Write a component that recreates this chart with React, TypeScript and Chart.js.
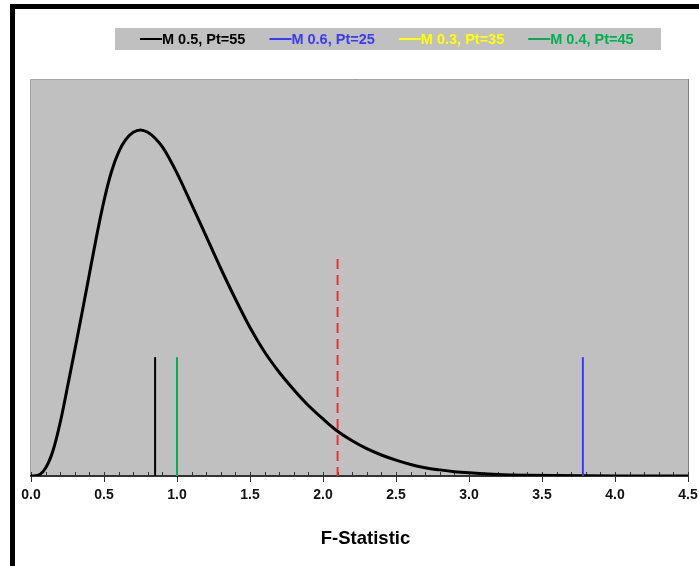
import React, { useEffect, useRef } from "react";
import { Chart, registerables } from "chart.js";

Chart.register(...registerables);

// F-statistic density curve
const curveX = [0, 0.05, 0.1, 0.15, 0.2, 0.25, 0.3, 0.35, 0.4, 0.45, 0.5, 0.55, 0.6, 0.65, 0.7, 0.75, 0.8, 0.85, 0.9, 0.95, 1.0, 1.1, 1.2, 1.3, 1.4, 1.5, 1.6, 1.7, 1.8, 1.9, 2.0, 2.1, 2.2, 2.3, 2.4, 2.5, 2.6, 2.7, 2.8, 2.9, 3.0, 3.2, 3.4, 3.6, 3.8, 4.0, 4.5];
const curveY = [0, 0.002, 0.02, 0.063, 0.135, 0.225, 0.318, 0.413, 0.51, 0.607, 0.695, 0.767, 0.818, 0.85, 0.868, 0.874, 0.868, 0.853, 0.831, 0.8, 0.765, 0.686, 0.605, 0.524, 0.447, 0.375, 0.313, 0.262, 0.218, 0.178, 0.144, 0.113, 0.089, 0.069, 0.053, 0.04, 0.029, 0.021, 0.0155, 0.011, 0.008, 0.004, 0.002, 0.001, 0.0005, 0.0002, 0];

// Marker lines
const markerLabels = ["M 0.5, Pt=55", "M 0.6, Pt=25", "M 0.3, Pt=35", "M 0.4, Pt=45"];
const markerColors = ["#000000", "#3a3aff", "#ffff00", "#00b050"];
const markerX: (number | null)[] = [0.85, 3.78, null, 1.0];
const markerHeight = 0.3;

// Critical value line
const criticalX = 2.1;
const criticalHeight = 0.548;

// Axis
const xMin = 0;
const xMax = 4.5;
const xMajorStep = 0.5;
const xMinorStep = 0.1;
const axisTitle = "F-Statistic";

const FONT = "'Liberation Sans', Arial, sans-serif";

export default function App() {
  const ref = useRef<HTMLCanvasElement>(null);

  useEffect(() => {
    if (!ref.current) return;
    Chart.defaults.font.family = FONT;

    const datasets: any[] = [
      {
        label: "F",
        data: curveX.map((x, i) => ({ x, y: curveY[i] })),
        borderColor: "#000000",
        borderWidth: 3,
        pointRadius: 0,
        cubicInterpolationMode: "monotone",
        borderJoinStyle: "round",
        order: 10,
      },
    ];
    markerLabels.forEach((lab, i) => {
      const mx = markerX[i];
      datasets.push({
        label: lab,
        data: mx == null ? [] : [{ x: mx, y: 0 }, { x: mx, y: markerHeight }],
        borderColor: markerColors[i],
        borderWidth: 2,
        pointRadius: 0,
        order: 5 - i,
      });
    });
    datasets.push({
      label: "critical",
      data: [{ x: criticalX, y: criticalHeight }, { x: criticalX, y: 0 }],
      borderColor: "#ff2a2a",
      borderWidth: 2,
      borderDash: [10, 6],
      pointRadius: 0,
      order: 0,
    });

    const bgPlugin = {
      id: "bgPlugin",
      beforeDraw(chart: any) {
        const { ctx, chartArea: a } = chart;
        ctx.save();
        ctx.fillStyle = "#ffffff";
        ctx.fillRect(0, 0, chart.width, chart.height);
        ctx.fillStyle = "#c0c0c0";
        ctx.fillRect(a.left, a.top, a.right - a.left, a.bottom - a.top);
        ctx.lineWidth = 1;
        ctx.strokeStyle = "#a4a4a4";
        ctx.beginPath();
        ctx.moveTo(a.left - 0.5, a.bottom);
        ctx.lineTo(a.left - 0.5, a.top - 0.5);
        ctx.lineTo(a.right, a.top - 0.5);
        ctx.stroke();
        ctx.strokeStyle = "#808080";
        ctx.beginPath();
        ctx.moveTo(a.right + 0.5, a.top - 1);
        ctx.lineTo(a.right + 0.5, a.bottom);
        ctx.stroke();
        ctx.restore();
      },
      beforeDatasetsDraw(chart: any) {
        const { ctx, chartArea: a, scales } = chart;
        const xs = scales.x;
        ctx.save();
        ctx.strokeStyle = "#333333";
        ctx.lineWidth = 1;
        const n = Math.round((xMax - xMin) / xMinorStep);
        for (let i = 0; i <= n; i++) {
          const v = xMin + i * xMinorStep;
          const px = Math.round(xs.getPixelForValue(v)) + 0.5;
          const major = i % Math.round(xMajorStep / xMinorStep) === 0;
          ctx.beginPath();
          ctx.moveTo(px, a.bottom - 4);
          ctx.lineTo(px, major ? a.bottom + 6 : a.bottom);
          ctx.stroke();
        }
        ctx.restore();
      },
      afterDraw(chart: any) {
        const { ctx, chartArea: a } = chart;
        ctx.save();
        // legend
        ctx.fillStyle = "#c0c0c0";
        ctx.fillRect(115, 28, 546, 22);
        ctx.font = `bold 14.5px ${FONT}`;
        ctx.textBaseline = "middle";
        ctx.textAlign = "left";
        let x = 140;
        const y = 39;
        markerLabels.forEach((lab, i) => {
          ctx.strokeStyle = markerColors[i];
          ctx.lineWidth = 2;
          ctx.beginPath();
          ctx.moveTo(x, y);
          ctx.lineTo(x + 22, y);
          ctx.stroke();
          ctx.fillStyle = markerColors[i];
          ctx.fillText(lab, x + 22, y + 1);
          x += 22 + ctx.measureText(lab).width + 24;
        });
        // axis title
        ctx.font = `bold 18.5px ${FONT}`;
        ctx.fillStyle = "#000000";
        ctx.textAlign = "center";
        ctx.fillText(axisTitle, (a.left + a.right) / 2 + 6, 539);
        ctx.restore();
      },
    };

    const chart = new Chart(ref.current, {
      type: "line",
      data: { datasets },
      options: {
        responsive: false,
        animation: false,
        devicePixelRatio: 1,
        layout: { padding: { left: 31, right: 11, top: 80, bottom: 0 } },
        plugins: { legend: { display: false }, tooltip: { enabled: false }, title: { display: false } },
        scales: {
          x: {
            type: "linear",
            min: xMin,
            max: xMax,
            ticks: {
              stepSize: xMajorStep,
              autoSkip: false,
              maxRotation: 0,
              padding: 5,
              color: "#111111",
              font: { size: 14, weight: "bold" },
              callback: (v: any) => Number(v).toFixed(1),
            },
            grid: {
              display: true,
              drawOnChartArea: false,
              drawTicks: true,
              tickLength: 6,
              color: "rgba(0,0,0,0)",
            },
            border: { display: true, color: "#333333", width: 2 },
            title: { display: false },
            afterFit: (s: any) => {
              s.height = 90;
              s.paddingLeft = 0;
              s.paddingRight = 0;
            },
          },
          y: { display: false, min: 0, max: 1 },
        },
      },
      plugins: [bgPlugin],
    } as any);
    return () => chart.destroy();
  }, []);

  return (
    <div style={{ position: "absolute", left: 0, top: 0, width: 699, height: 566, overflow: "hidden", background: "#fff" }}>
      <canvas ref={ref} width={699} height={566} style={{ position: "absolute", left: 0, top: 0, width: 699, height: 566 }} />
      <div style={{ position: "absolute", left: 10, top: 4, width: 689, height: 5, background: "#000" }} />
      <div style={{ position: "absolute", left: 10, top: 4, width: 5, height: 562, background: "#000" }} />
    </div>
  );
}
